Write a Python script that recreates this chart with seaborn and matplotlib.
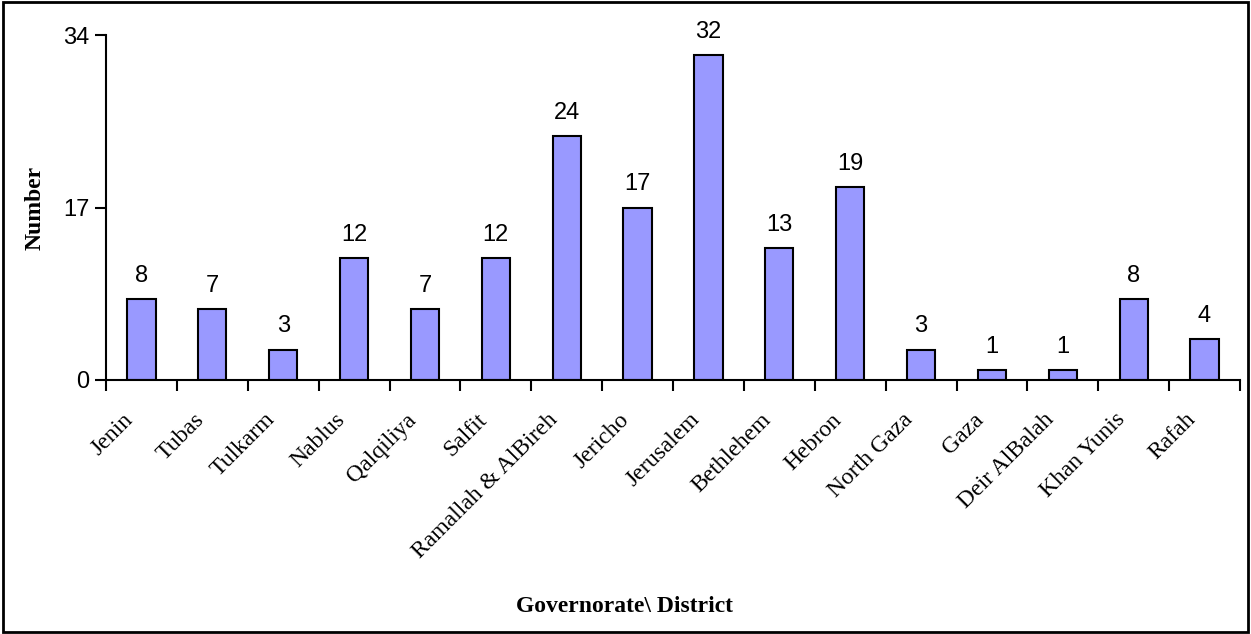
import matplotlib
matplotlib.use('Agg')
import matplotlib.pyplot as plt
import seaborn as sns
import pandas as pd

# Dati
governorates = ['Jenin', 'Tubas', 'Tulkarm', 'Nablus', 'Qalqiliya', 'Salfit',
                'Ramallah & AlBireh', 'Jericho', 'Jerusalem', 'Bethlehem', 'Hebron',
                'North Gaza', 'Gaza', 'Deir AlBalah', 'Khan Yunis', 'Rafah']
numbers = [8, 7, 3, 12, 7, 12, 24, 17, 32, 13, 19, 3, 1, 1, 8, 4]
y_ticks = [0, 17, 34]

df = pd.DataFrame({'Governorate': governorates, 'Number': numbers})

sns.set_style('white')
plt.rcParams['font.family'] = ['Liberation Sans', 'DejaVu Sans']
plt.rcParams['text.color'] = 'black'
plt.rcParams['xtick.color'] = 'black'
plt.rcParams['ytick.color'] = 'black'

fig = plt.figure(figsize=(12.51, 6.34), dpi=100)
ax = fig.add_axes([106 / 1251, 1 - 380 / 634, (1240 - 106) / 1251, (380 - 35) / 634])

sns.barplot(data=df, x='Governorate', y='Number', color='#9999FF', width=0.4,
            edgecolor='black', linewidth=1.5, saturation=1, ax=ax)

# Etichette dei valori
for i, v in enumerate(numbers):
    ax.text(i, v + 1.2, str(v), ha='center', va='bottom', fontsize=17,
            family='Liberation Sans', color='black')

ax.set_xlim(-0.5, len(governorates) - 0.5)
ax.set_ylim(0, 34)
ax.set_yticks(y_ticks)
ax.set_yticklabels([str(t) for t in y_ticks], fontsize=17)

# Tacche tra le categorie
ax.set_xticks([i - 0.5 for i in range(len(governorates) + 1)])
ax.set_xticklabels([])
ax.set_xticks([i - 0.27 for i in range(len(governorates))], minor=True)
ax.set_xticklabels(governorates, minor=True, rotation=45, ha='right',
                   rotation_mode='anchor', fontsize=17, family='Liberation Serif')
ax.tick_params(axis='x', which='minor', length=0, pad=21)
ax.tick_params(axis='x', which='major', direction='out', length=8, width=1.5, bottom=True)
ax.tick_params(axis='y', direction='out', length=8, width=1.5, left=True, pad=4)

for s in ['top', 'right']:
    ax.spines[s].set_visible(False)
for s in ['left', 'bottom']:
    ax.spines[s].set_linewidth(1.5)
    ax.spines[s].set_color('black')

ax.set_xlabel('')
ax.set_ylabel('')
fig.text(35 / 1251, 1 - 208 / 634, 'Number', rotation=90, ha='center', va='center',
         fontsize=17, fontweight='bold', family='Liberation Serif')
fig.text(624 / 1251, 1 - 607 / 634, 'Governorate\\ District', ha='center', va='center',
         fontsize=17, fontweight='bold', family='Liberation Serif')

# Bordo esterno
border = plt.Rectangle((0.002, 0.003), 0.996, 0.994, transform=fig.transFigure,
                       fill=False, edgecolor='black', linewidth=2)
fig.patches.append(border)

plt.savefig('out.png', dpi=100)
